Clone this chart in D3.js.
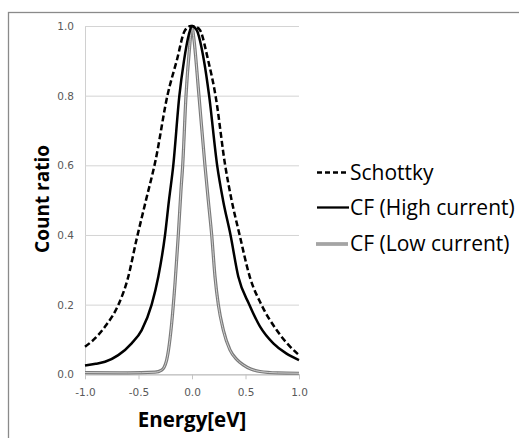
<!DOCTYPE html>
<html>
<head>
<meta charset="utf-8">
<script src="https://cdn.jsdelivr.net/npm/d3@7"></script>
<style>
  body { margin: 0; background: #fff; }
  svg { display: block; }
</style>
</head>
<body>
<script>
const w = 519;
const h = 438;

// energy [eV] and count ratio
const schottkyE = [-1.0, -0.9, -0.8, -0.689, -0.6, -0.52, -0.43, -0.34, -0.23, -0.143, -0.065, -0.01, 0.04, 0.075, 0.152, 0.22, 0.31, 0.37, 0.445, 0.54, 0.65, 0.791, 0.9, 1.0];
const schottkyC = [0.079, 0.105, 0.142, 0.199, 0.275, 0.385, 0.50, 0.615, 0.80, 0.90, 0.988, 1.0, 0.997, 0.988, 0.90, 0.80, 0.60, 0.50, 0.40, 0.28, 0.199, 0.127, 0.085, 0.055];

const highE = [-1.0, -0.9, -0.813, -0.689, -0.564, -0.47, -0.377, -0.315, -0.252, -0.215, -0.175, -0.118, -0.075, -0.03, 0.0, 0.044, 0.112, 0.16, 0.235, 0.29, 0.36, 0.433, 0.536, 0.636, 0.76, 0.88, 1.0];
const highC = [0.025, 0.03, 0.036, 0.055, 0.089, 0.127, 0.20, 0.28, 0.40, 0.50, 0.60, 0.80, 0.90, 0.975, 1.0, 0.988, 0.90, 0.80, 0.60, 0.50, 0.40, 0.28, 0.20, 0.137, 0.089, 0.06, 0.041];

const lowE = [-1.0, -0.6, -0.346, -0.284, -0.237, -0.19, -0.159, -0.128, -0.103, -0.087, -0.056, -0.025, 0.0, 0.015, 0.065, 0.121, 0.152, 0.184, 0.215, 0.246, 0.293, 0.355, 0.42, 0.479, 0.55, 0.636, 0.8, 1.0];
const lowC = [0.005, 0.004, 0.006, 0.012, 0.041, 0.146, 0.26, 0.40, 0.529, 0.60, 0.80, 0.93, 1.0, 0.97, 0.80, 0.60, 0.50, 0.40, 0.28, 0.20, 0.127, 0.07, 0.042, 0.027, 0.015, 0.008, 0.004, 0.003];

const xTicks = [-1.0, -0.5, 0.0, 0.5, 1.0];
const yTicks = [0.0, 0.2, 0.4, 0.6, 0.8, 1.0];
const seriesNames = ["Schottky", "CF (High current)", "CF (Low current)"];

const plot = {left: 85, right: 299, top: 26, bottom: 374.3};

let svg = d3.select("body")
        .append("svg")
        .attr("width", w)
        .attr("height", h);

// outer frame (runs off the right / bottom edge)
svg.append("rect")
   .attr("x", 8.5)
   .attr("y", 12.5)
   .attr("width", 700)
   .attr("height", 700)
   .attr("fill", "none")
   .attr("stroke", "#8a8a8a")
   .attr("stroke-width", 1.3);

let xScale = d3.scaleLinear().domain([-1, 1]).range([plot.left, plot.right]);
let yScale = d3.scaleLinear().domain([0, 1]).range([plot.bottom, plot.top]);

// gridlines + y labels
let yAxis = d3.axisLeft(yScale)
      .tickValues(yTicks)
      .tickFormat(d3.format(".1f"))
      .tickSize(-(plot.right - plot.left))
      .tickPadding(11);
let gy = svg.append("g")
     .attr("transform", "translate(" + plot.left + ",0)")
     .call(yAxis);
gy.select(".domain").attr("stroke", "#d0d0d0");
gy.selectAll(".tick line").attr("stroke", "#d4d4d4").attr("stroke-width", 1);
gy.selectAll(".tick text")
  .attr("fill", "#595959")
  .style("font-family", "DejaVu Sans")
  .style("font-size", "10.5px");

let xAxis = d3.axisBottom(xScale)
      .tickValues(xTicks)
      .tickFormat(d3.format(".1f"))
      .tickSize(5)
      .tickSizeOuter(0)
      .tickPadding(9);
let gx = svg.append("g")
     .attr("transform", "translate(0," + plot.bottom + ")")
     .call(xAxis);
gx.select(".domain").attr("stroke", "#c4c4c4");
gx.selectAll(".tick line").attr("stroke", "#c4c4c4");
gx.selectAll(".tick text")
  .attr("fill", "#595959")
  .style("font-family", "DejaVu Sans")
  .style("font-size", "10.5px")
  .text(d => d3.format(".1f")(d).replace("−", "-"));

let line = d3.line()
    .x(d => xScale(d[0]))
    .y(d => yScale(d[1]))
    .curve(d3.curveMonotoneX);

let zip = (a, b) => a.map((v, i) => [v, b[i]]);

// CF low current: grey double line
svg.append("path")
   .attr("d", line(zip(lowE, lowC)))
   .attr("fill", "none")
   .attr("stroke", "#7a7a7a")
   .attr("stroke-width", 3.2);
svg.append("path")
   .attr("d", line(zip(lowE, lowC)))
   .attr("fill", "none")
   .attr("stroke", "#cfcfcf")
   .attr("stroke-width", 1);

// CF high current
svg.append("path")
   .attr("d", line(zip(highE, highC)))
   .attr("fill", "none")
   .attr("stroke", "#000")
   .attr("stroke-width", 2.5);

// Schottky
svg.append("path")
   .attr("d", line(zip(schottkyE, schottkyC)))
   .attr("fill", "none")
   .attr("stroke", "#000")
   .attr("stroke-width", 2.5)
   .attr("stroke-dasharray", "6,3");

// axis titles
svg.append("text")
   .attr("x", 192)
   .attr("y", 427)
   .attr("text-anchor", "middle")
   .style("font-family", "Open Sans")
   .style("font-weight", "bold")
   .style("font-size", "20.5px")
   .attr("fill", "#000")
   .text("Energy[eV]");

svg.append("text")
   .attr("transform", "translate(49," + 199 + ") rotate(-90)")
   .attr("text-anchor", "middle")
   .style("font-family", "Open Sans")
   .style("font-weight", "bold")
   .style("font-size", "19px")
   .attr("fill", "#000")
   .text("Count ratio");

// legend
let legendY = [172.5, 207.5, 244];
let legend = svg.append("g");
seriesNames.forEach((name, i) => {
  let y = legendY[i];
  if (i === 2) {
    legend.append("line").attr("x1", 316).attr("x2", 348).attr("y1", y).attr("y2", y)
          .attr("stroke", "#7a7a7a").attr("stroke-width", 3.2);
    legend.append("line").attr("x1", 316).attr("x2", 348).attr("y1", y).attr("y2", y)
          .attr("stroke", "#cfcfcf").attr("stroke-width", 1);
  } else {
    legend.append("line").attr("x1", 317).attr("x2", 349).attr("y1", y).attr("y2", y)
          .attr("stroke", "#000").attr("stroke-width", 2.3)
          .attr("stroke-dasharray", i === 0 ? "5,3" : null);
  }
  legend.append("text")
        .attr("x", 350)
        .attr("y", y + 7)
        .style("font-family", "Open Sans")
        .style("font-size", "21px")
        .attr("fill", "#000")
        .text(name);
});
</script>
</body>
</html>
